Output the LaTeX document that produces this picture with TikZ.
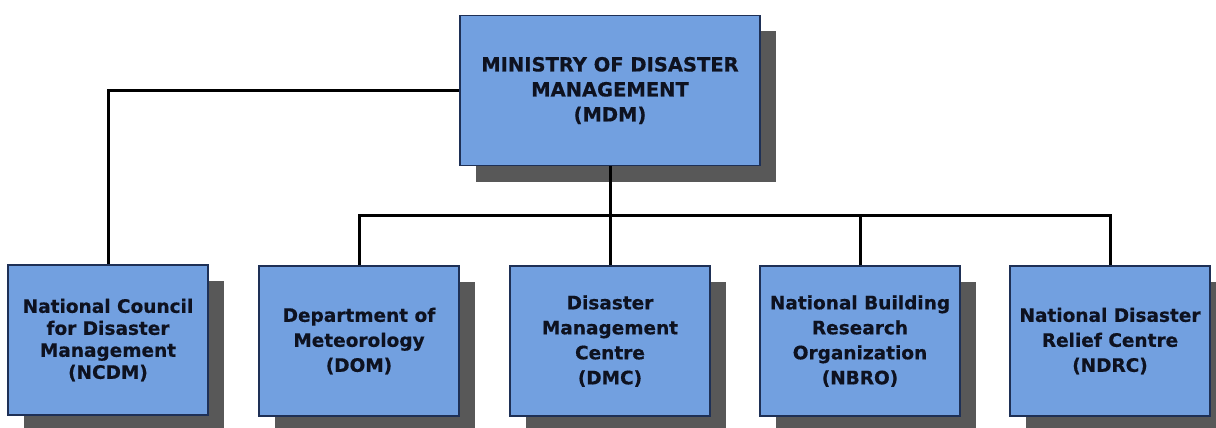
\documentclass[tikz,border=0pt]{standalone}
\usepackage{fontspec}
\setmainfont{DejaVu Sans}
\newfontface\heavyface{DejaVu Sans Bold}[FakeBold=0.5]
\usepackage{tikz}
\usetikzlibrary{shadows}
\definecolor{boxblue}{RGB}{114,160,224}
\definecolor{boxedge}{RGB}{30,48,86}
\definecolor{shadowgray}{RGB}{88,88,88}
\definecolor{inktext}{RGB}{14,18,32}

\begin{document}
\begin{tikzpicture}[x=1pt, y=-1pt,
        unit/.style={draw=boxedge, line width=1.2pt, fill=boxblue, text=inktext,
            align=center, inner sep=0pt,
            drop shadow={shadow xshift=16pt, shadow yshift=-16pt, fill=shadowgray, opacity=1}},
        headunit/.style={unit, minimum width=300pt, minimum height=150pt,
            font=\fontsize{19.5}{25}\selectfont\heavyface},
        subunit/.style={unit, minimum width=200pt, minimum height=150pt,
            font=\fontsize{18.5}{25}\selectfont\heavyface},
        link/.style={black, line width=3pt}]
                        \useasboundingbox (0,0) rectangle (1216,428);
                        \node[headunit] (mdm) at (610,90.5) {MINISTRY OF DISASTER\\MANAGEMENT\\(MDM)};
                        \node[subunit, font=\fontsize{18.5}{22}\selectfont\heavyface] (ncdm) at (108,340) {National Council\\for Disaster\\Management\\(NCDM)};
                        \node[subunit] (dom) at (359,341) {Department of\\Meteorology\\(DOM)};
                        \node[subunit] (dmc) at (610,341) {Disaster\\Management\\Centre\\(DMC)};
                        \node[subunit] (nbro) at (860,341) {National Building\\Research\\Organization\\(NBRO)};
                        \node[subunit] (ndrc) at (1110,341) {National Disaster\\Relief Centre\\(NDRC)};
                        \coordinate (bus) at (610,215);
                        \draw[link] (mdm.south) -- (bus);
                        \draw[link] (dom.north) |- (bus) -| (ndrc.north);
                        \draw[link] (bus) -- (dmc.north);
                        \draw[link] (nbro.north) -- (nbro.north |- bus);
                        \draw[link] (mdm.west) -| (ncdm.north);
                    \end{tikzpicture}
\end{document}
